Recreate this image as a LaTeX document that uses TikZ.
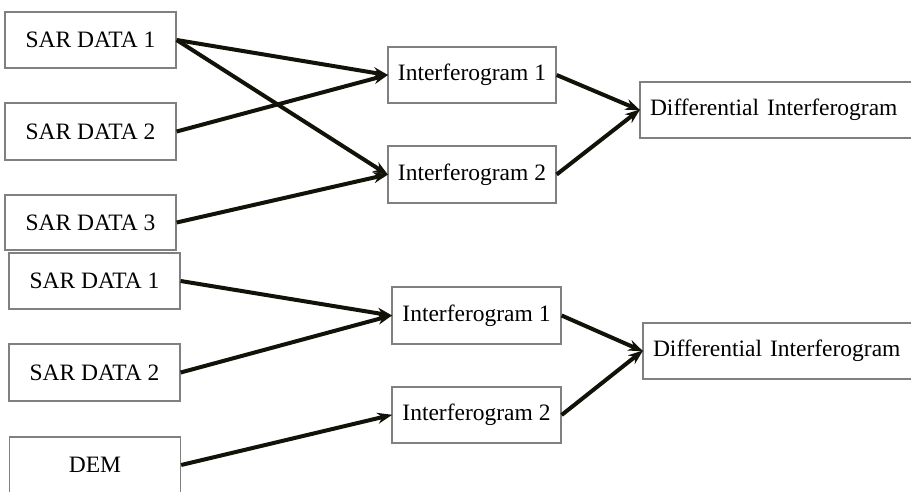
\documentclass[tikz,border=0pt]{standalone}
\usepackage{fontspec}
\setmainfont{Liberation Serif}
\usetikzlibrary{arrows.meta}
\definecolor{boxline}{RGB}{128,128,128}
\definecolor{flow}{RGB}{18,18,8}
\tikzset{
  box/.style={draw=boxline, line width=1.3pt, fill=white, inner sep=0pt,
    minimum width=171pt, minimum height=56pt, font=\fontsize{23.5}{28}\selectfont},
  ifg/.style={box, minimum width=168pt},
  diff/.style={box, text width=270pt, align=left, inner xsep=10pt},
  flowarrow/.style={draw=flow, line width=4pt,
    -{Stealth[length=15pt,width=11pt]}, shorten >=-1pt}
}
\begin{document}
\begin{tikzpicture}[x=1pt,y=-1pt]
\useasboundingbox (0,0) rectangle (911,492);
\clip (0,0) rectangle (911,492);

% upper chain: three acquisitions
\node[box] (s1) at (90.5,40) {SAR DATA 1};
\node[box, minimum height=57pt] (s2) at (90.5,131.5) {SAR DATA 2};
\node[box, minimum height=55pt] (s3) at (90.5,222.5) {SAR DATA 3};
\node[ifg] (i1) at (472,75) {Interferogram 1};
\node[ifg, minimum height=57pt] (i2) at (472,174.5) {Interferogram 2};
\node[diff] (d1) at (785,110) {Differential Interferogram};

% lower chain: two acquisitions and a DEM
\node[box] (b1) at (94.5,281) {SAR DATA 1};
\node[box, minimum height=57pt] (b2) at (94.5,372.5) {SAR DATA 2};
\node[box] (dem) at (95,465) {DEM};
\node[ifg, minimum width=169pt, minimum height=57pt] (bi1) at (476.5,315.5) {Interferogram 1};
\node[ifg, minimum width=169pt] (bi2) at (476.5,415) {Interferogram 2};
\node[diff] (d2) at (788,351) {Differential Interferogram};

% connectors, upper chain
\draw[flowarrow] (s1.east) -- (i1.west);
\draw[flowarrow] (s1.east) -- (i2.west);
\draw[flowarrow] (s2.east) -- (i1.west);
\draw[flowarrow] (s3.east) -- (i2.west);
\draw[flowarrow] (i1.east) -- (d1.west);
\draw[flowarrow] (i2.east) -- (d1.west);

% connectors, lower chain
\draw[flowarrow] (b1.east) -- (bi1.west);
\draw[flowarrow] (b2.east) -- (bi1.west);
\draw[flowarrow] (dem.east) -- (bi2.west);
\draw[flowarrow] (bi1.east) -- (d2.west);
\draw[flowarrow] (bi2.east) -- (d2.west);
\end{tikzpicture}
\end{document}
